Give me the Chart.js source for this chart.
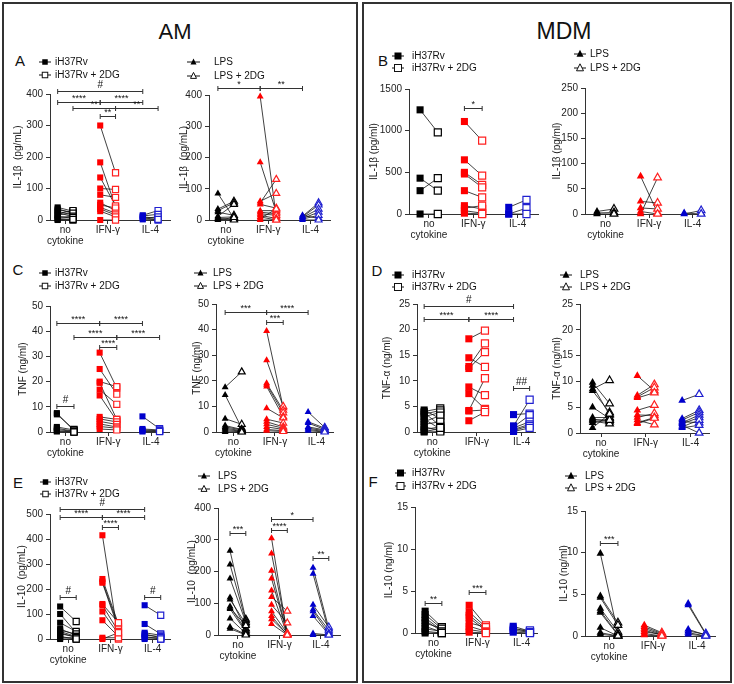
<!DOCTYPE html>
<html><head><meta charset="utf-8">
<script src="https://cdn.jsdelivr.net/npm/chart.js@4"></script>
<style>
body{margin:0;width:734px;height:684px;position:relative;background:#fff;font-family:"Liberation Sans",Arial,sans-serif;overflow:hidden}
.box{position:absolute;border:2px solid #333;box-sizing:border-box}
.t{position:absolute;white-space:nowrap;color:#111;transform:translate(-50%,-50%)}
.lg{position:absolute;white-space:nowrap;color:#111;font-size:10px;line-height:12px}
canvas{position:absolute}
svg{position:absolute;overflow:visible}
</style></head><body>
<div class="box" style="left:2px;top:2px;width:356px;height:681px"></div>
<div class="box" style="left:362px;top:2px;width:370px;height:681px"></div>
<div class="t" style="left:175px;top:32px;font-size:22px">AM</div>
<div class="t" style="left:564px;top:31px;font-size:23px">MDM</div>
<div class="t" style="left:20px;top:60px;font-size:15px">A</div>
<div class="t" style="left:383px;top:60px;font-size:15px">B</div>
<div class="t" style="left:18px;top:269px;font-size:15px">C</div>
<div class="t" style="left:377px;top:270px;font-size:15px">D</div>
<div class="t" style="left:18px;top:482px;font-size:15px">E</div>
<div class="t" style="left:373px;top:481px;font-size:15px">F</div>
<script>
// ---------- categories / series ----------
const categories = [['no','cytokine'], 'IFN-γ', 'IL-4'];
const seriesH37 = ['iH37Rv', 'iH37Rv + 2DG'];
const seriesLPS = ['LPS', 'LPS + 2DG'];

// ---------- A left: IL-1β (pg/mL), AM, iH37Rv ----------
const A1_noF  = [40,36,32,28,24,20,16,12,8,5,2,0];
const A1_noO  = [28,20,25,15,10,30,22,5,12,8,0,2];
const A1_ifnF = [300,183,135,100,80,55,48,40,35,28,0];
const A1_ifnO = [150,42,45,97,72,30,38,22,16,10,0];
const A1_il4F = [15,13,10,8,5,2];
const A1_il4O = [30,18,5,0,10,2];
const A1_sig  = [[0,4,'#',410],[0,2,'****',375],[2,4,'****',375],[1,3,'**',356],[3,5,'**',356],[2,3,'**',330]];
// ---------- A right: IL-1β (pg/mL), AM, LPS ----------
const A2_noF  = [85,35,30,25,12,8,5,3,0];
const A2_noO  = [5,60,55,15,50,10,2,0,8];
const A2_ifnF = [395,185,60,55,50,30,25,20,15,10,5,0];
const A2_ifnO = [10,25,85,130,38,30,20,15,5,0,35,0];
const A2_il4F = [15,12,10,8,5,3,0];
const A2_il4O = [5,55,48,35,25,15,0];
const A2_sig  = [[0,2,'*',422],[2,4,'**',422]];
// ---------- B left: IL-1β (pg/ml), MDM, iH37Rv ----------
const B1_noF  = [1250,430,280,0];
const B1_noO  = [980,280,430,0];
const B1_ifnF = [1110,650,500,480,280,100,70,40,10];
const B1_ifnO = [880,460,350,320,200,60,100,10,0];
const B1_il4F = [80,0,0];
const B1_il4O = [170,70,0];
const B1_sig  = [[2,3,'*',1272]];
// ---------- B right: IL-1β (pg/ml), MDM, LPS ----------
const B2_noF  = [5,2,0];
const B2_noO  = [10,3,0];
const B2_ifnF = [75,0,25,12,5];
const B2_ifnO = [2,72,22,10,0];
const B2_il4F = [0,2];
const B2_il4O = [7,0];
const B2_sig  = [];
// ---------- C left: TNF (ng/ml), AM, iH37Rv ----------
const C1_noF  = [7.5,7,2,1.5,1,0.5,0.2];
const C1_noO  = [0.5,1,0.8,0.3,0.2,0,0];
const C1_ifnF = [31.5,25,20,19.5,16.8,14.5,6,5.2,4.2,3.2,2.2,1.2];
const C1_ifnO = [17.5,15,18,5,11,4.5,5,4,3,2,1.5,0.8];
const C1_il4F = [6.2,1.2,0.8,0.5,0.2];
const C1_il4O = [1.3,0.8,0.5,0.3,0.2];
const C1_sig  = [[0,2,'****',43.3],[2,4,'****',43.3],[1,3,'****',37.7],[3,5,'****',37.7],[2,3,'****',33.7],[0,1,'#',10.3]];
// ---------- C right: TNF (ng/ml), AM, LPS ----------
const C2_noF  = [17.5,14.5,5.2,2.5,2,1.5,1,0.5,0];
const C2_noO  = [23.5,1.5,3,1,0.8,0.5,0.3,0.1,0];
const C2_ifnF = [39.5,28,19,18.5,17.8,9.3,5,4,3,2,1,0.5];
const C2_ifnO = [9.5,10,8.5,7.5,6,5.5,3.5,2,1.5,1,0.5,0.2];
const C2_il4F = [7.8,4,3.5,2,1.5,1,0.5];
const C2_il4O = [1.8,1.5,1,0.8,0.5,0.2,0];
const C2_sig  = [[0,2,'***',46.9],[2,4,'****',46.9],[2,3,'***',43]];
// ---------- D left: TNF-α (ng/ml), MDM, iH37Rv ----------
const D1_noF  = [4.3,4,3.8,3.5,3,2.5,2,1.5,1,0.5,0.2,0];
const D1_noO  = [2.6,4.6,1.2,4.2,3.8,0.6,3.2,2,0.3,1,0.1,0.8];
const D1_ifnF = [18.2,14.5,12.8,12.4,8.8,7.5,4.2,4.1,2.2];
const D1_ifnO = [19.8,12.7,17.3,15.6,7.2,4.5,10.5,4.3,3.9];
const D1_il4F = [3.4,1.2,1,0.8,0.5,0.3,0.1];
const D1_il4O = [3.6,6.3,3.3,2,1.5,1.2,0.8];
const D1_sig  = [[0,4,'#',24.6],[0,2,'****',22],[2,4,'****',22],[4,5,'##',8.6]];
// ---------- D right: TNF-α (ng/ml), MDM, LPS ----------
const D2_noF  = [9.8,9.2,8.5,8.2,5,3,2.7,2.5,2.3,2,1];
const D2_noO  = [5.7,3.5,10.2,4,2.8,3,2.2,2.6,1.8,2.5,3.7];
const D2_ifnF = [11.1,7.3,7,6.8,4.4,3.5,3,2.5,2,1.8];
const D2_ifnO = [8.2,9.4,8.8,7.8,5.4,3.4,3.8,1.6,3,2.9];
const D2_il4F = [6.3,2.8,2.5,2.2,2,1.8,1.5,1.2,1];
const D2_il4O = [7.5,4.4,4,2,3.5,3,0,2.5,1.5];
const D2_sig  = [];
// ---------- E left: IL-10 (pg/mL), AM, iH37Rv ----------
const E1_noF  = [130,100,65,40,35,30,25,20,10,5,0];
const E1_noO  = [70,25,30,15,20,10,5,10,0,5,0];
const E1_ifnF = [415,240,230,225,140,135,110,75,5,0];
const E1_ifnO = [0,60,50,40,65,30,20,10,5,25];
const E1_il4F = [135,60,25,20,15,10,5,0];
const E1_il4O = [95,20,15,5,10,0,5,0];
const E1_sig  = [[0,4,'#',520],[0,2,'****',488],[2,4,'****',488],[2,3,'****',448],[0,1,'#',168],[4,5,'#',168]];
// ---------- E right: IL-10 (pg/mL), AM, LPS ----------
const E2_noF  = [265,222,178,118,112,90,85,82,52,25,20];
const E2_noO  = [50,45,40,20,35,15,30,10,5,2,0];
const E2_ifnF = [305,257,202,178,140,120,95,75,60,50,35];
const E2_ifnO = [0,5,2,3,0,75,38,5,0,2,0];
const E2_il4F = [212,193,95,80,75,60,5,0];
const E2_il4O = [20,10,25,15,5,2,0,0];
const E2_sig  = [[0,1,'***',321],[2,3,'****',331],[2,4,'*',365],[4,5,'**',242]];
// ---------- F left: IL-10 (ng/ml), MDM, iH37Rv ----------
const F1_noF  = [2.6,2.2,1.8,1.5,1.2,0.8,0.5,0.2,0];
const F1_noO  = [0.7,0.5,0.3,0.2,0.5,0.1,0.2,0,0];
const F1_ifnF = [3.3,2.5,2.1,1.8,1.2,0.8,0.4,0.1];
const F1_ifnO = [0.9,0.7,0.5,0.3,0.7,0.2,0.1,0];
const F1_il4F = [0.8,0.6,0.4,0.3,0.1];
const F1_il4O = [0.2,0.1,0.3,0.1,0];
const F1_sig  = [[0,1,'**',3.6],[2,3,'***',4.9]];
// ---------- F right: IL-10 (ng/ml), MDM, LPS ----------
const F2_noF  = [9.9,4.8,4.6,3.3,3,2.8,1,0.4,0.2];
const F2_noO  = [0.3,1.6,1.3,0.5,0.2,0.1,0,0,0];
const F2_ifnF = [1.3,1.1,0.9,0.7,0.5,0.3,0.1];
const F2_ifnO = [0.4,0.3,0.2,0.1,0.2,0,0];
const F2_il4F = [3.9,3.7,0.8,0.6,0.4,0.2];
const F2_il4O = [0.3,0.2,0.1,0.2,0,0];
const F2_sig  = [[0,1,'***',11.2]];

// ---------- styles / layout ----------
const FONT = '"Liberation Sans", Arial, sans-serif';
Chart.defaults.font.family = FONT;
const FILL = ['#000000', '#ff0000', '#0000cc'];
const OPEN = ['#000000', '#ff2020', '#2020d0'];

const plots = [
 {L:50, R:170, top:94, bottom:220, xmin:-0.36, xmax:2.46, d:0.18, ymax:400, step:100, titleX:18, title:'IL-1β  (pg/mL)', marker:'rect', r:4.3,
  data:[A1_noF,A1_noO,A1_ifnF,A1_ifnO,A1_il4F,A1_il4O], sig:A1_sig},
 {L:209, R:330, top:95, bottom:220, xmin:-0.40, xmax:2.46, d:0.19, ymax:400, step:100, titleX:184, title:'IL-1β  (pg/mL)', marker:'triangle', r:4.0,
  data:[A2_noF,A2_noO,A2_ifnF,A2_ifnO,A2_il4F,A2_il4O], sig:A2_sig},
 {L:409, R:538, top:89, bottom:214, xmin:-0.45, xmax:2.46, d:0.2, ymax:1500, step:500, titleX:374, title:'IL-1β (pg/ml)', marker:'rect', r:5.0,
  data:[B1_noF,B1_noO,B1_ifnF,B1_ifnO,B1_il4F,B1_il4O], sig:B1_sig},
 {L:585, R:704, top:88, bottom:214, xmin:-0.47, xmax:2.26, d:0.195, ymax:250, step:50, titleX:557, title:'IL-1β (pg/ml)', marker:'triangle', r:4.4,
  data:[B2_noF,B2_noO,B2_ifnF,B2_ifnO,B2_il4F,B2_il4O], sig:B2_sig},
 {L:50, R:169, top:306, bottom:432, xmin:-0.36, xmax:2.42, d:0.2, ymax:50, step:10, titleX:23, title:'TNF (ng/ml)', marker:'rect', r:4.3,
  data:[C1_noF,C1_noO,C1_ifnF,C1_ifnO,C1_il4F,C1_il4O], sig:C1_sig},
 {L:216, R:333, top:304, bottom:432, xmin:-0.42, xmax:2.4, d:0.2, ymax:50, step:10, titleX:197, title:'TNF (ng/ml)', marker:'triangle', r:4.0,
  data:[C2_noF,C2_noO,C2_ifnF,C2_ifnO,C2_il4F,C2_il4O], sig:C2_sig},
 {L:417, R:535, top:304, bottom:432, xmin:-0.34, xmax:2.3, d:0.18, ymax:25, step:5, titleX:387, title:'TNF-α (ng/ml)', marker:'rect', r:5.0,
  data:[D1_noF,D1_noO,D1_ifnF,D1_ifnO,D1_il4F,D1_il4O], sig:D1_sig},
 {L:580, R:709, top:304, bottom:433, xmin:-0.47, xmax:2.41, d:0.19, ymax:25, step:5, titleX:557, title:'TNF-α (ng/ml)', marker:'triangle', r:4.4,
  data:[D2_noF,D2_noO,D2_ifnF,D2_ifnO,D2_il4F,D2_il4O], sig:D2_sig},
 {L:50, R:170, top:514, bottom:639, xmin:-0.43, xmax:2.41, d:0.19, ymax:500, step:100, titleX:22, title:'IL-10  (pg/mL)', marker:'rect', r:4.3,
  data:[E1_noF,E1_noO,E1_ifnF,E1_ifnO,E1_il4F,E1_il4O], sig:E1_sig},
 {L:218, R:340, top:508, bottom:635, xmin:-0.48, xmax:2.46, d:0.19, ymax:400, step:100, titleX:192, title:'IL-10  (pg/mL)', marker:'triangle', r:4.0,
  data:[E2_noF,E2_noO,E2_ifnF,E2_ifnO,E2_il4F,E2_il4O], sig:E2_sig},
 {L:415, R:537, top:507, bottom:633, xmin:-0.42, xmax:2.35, d:0.19, ymax:15, step:5, titleX:389, title:'IL-10 (ng/ml)', marker:'rect', r:5.0,
  data:[F1_noF,F1_noO,F1_ifnF,F1_ifnO,F1_il4F,F1_il4O], sig:F1_sig},
 {L:585, R:715, top:511, bottom:636, xmin:-0.55, xmax:2.41, d:0.2, ymax:15, step:5, titleX:564, title:'IL-10 (ng/ml)', marker:'triangle', r:4.4,
  data:[F2_noF,F2_noO,F2_ifnF,F2_ifnO,F2_il4F,F2_il4O], sig:F2_sig}
];

const legends = [
 {x1:39, x2:51, tx:55, ys:[62,75], labels:seriesH37, marker:'rect', s:5.5},
 {x1:187, x2:200, tx:214, ys:[62,76], labels:seriesLPS, marker:'tri', s:6},
 {x1:392, x2:404, tx:412, ys:[56,68], labels:seriesH37, marker:'rect', s:7},
 {x1:574, x2:586, tx:590, ys:[54,68], labels:seriesLPS, marker:'tri', s:7},
 {x1:39, x2:51, tx:55, ys:[273,286], labels:seriesH37, marker:'rect', s:5.5},
 {x1:194, x2:207, tx:213, ys:[273,286], labels:seriesLPS, marker:'tri', s:6},
 {x1:392, x2:404, tx:412, ys:[275,287], labels:seriesH37, marker:'rect', s:7},
 {x1:560, x2:572, tx:580, ys:[275,287], labels:seriesLPS, marker:'tri', s:7},
 {x1:40, x2:51, tx:55, ys:[482,494], labels:seriesH37, marker:'rect', s:5.5},
 {x1:198, x2:210, tx:218, ys:[476,489], labels:seriesLPS, marker:'tri', s:6},
 {x1:395, x2:406, tx:412, ys:[473,486], labels:seriesH37, marker:'rect', s:7},
 {x1:565, x2:577, tx:585, ys:[476,488], labels:seriesLPS, marker:'tri', s:7}
];

const NS = 'http://www.w3.org/2000/svg';
function drawLegend(g){
  g.ys.forEach((y, i) => {
    const w = g.x2 - g.x1, h = 10;
    const svg = document.createElementNS(NS, 'svg');
    svg.setAttribute('width', w); svg.setAttribute('height', h);
    svg.style.left = g.x1 + 'px'; svg.style.top = (y - h / 2) + 'px';
    const ln = document.createElementNS(NS, 'line');
    ln.setAttribute('x1', 0); ln.setAttribute('x2', w); ln.setAttribute('y1', h / 2); ln.setAttribute('y2', h / 2);
    ln.setAttribute('stroke', '#111'); ln.setAttribute('stroke-width', 1);
    svg.appendChild(ln);
    const cx = w / 2, cy = h / 2, s = g.s;
    let m;
    if (g.marker === 'rect') {
      m = document.createElementNS(NS, 'rect');
      m.setAttribute('x', cx - s / 2); m.setAttribute('y', cy - s / 2);
      m.setAttribute('width', s); m.setAttribute('height', s);
    } else {
      m = document.createElementNS(NS, 'polygon');
      m.setAttribute('points', `${cx},${cy - s * 0.6} ${cx - s / 2},${cy + s * 0.4} ${cx + s / 2},${cy + s * 0.4}`);
    }
    if (i === 0) { m.setAttribute('fill', '#000'); }
    else { m.setAttribute('fill', '#fff'); m.setAttribute('stroke', '#111'); m.setAttribute('stroke-width', 1); }
    svg.appendChild(m);
    document.body.appendChild(svg);
    const t = document.createElement('div');
    t.className = 'lg'; t.textContent = g.labels[i];
    t.style.left = g.tx + 'px'; t.style.top = (y - 6) + 'px';
    document.body.appendChild(t);
  });
}

function drawBrackets(chart, items, d){
  const ctx = chart.ctx, xs = chart.scales.x, ys = chart.scales.y;
  const px = c => xs.getPixelForValue(Math.floor(c / 2) + (c % 2 ? d : -d));
  ctx.save();
  ctx.strokeStyle = '#333'; ctx.lineWidth = 1; ctx.fillStyle = '#111';
  ctx.textAlign = 'center'; ctx.textBaseline = 'bottom';
  items.forEach(([c1, c2, label, v]) => {
    const x1 = px(c1), x2 = px(c2), y = Math.round(ys.getPixelForValue(v)) + 0.5;
    ctx.beginPath();
    ctx.moveTo(x1, y); ctx.lineTo(x2, y);
    ctx.moveTo(x1, y - 2.5); ctx.lineTo(x1, y + 2.5);
    ctx.moveTo(x2, y - 2.5); ctx.lineTo(x2, y + 2.5);
    ctx.stroke();
    ctx.font = (label.indexOf('#') >= 0 ? '10px ' : '9px ') + FONT;
    ctx.fillText(label, (x1 + x2) / 2, label.indexOf('#') >= 0 ? y - 1 : y + 1);
  });
  ctx.restore();
}

function buildPlot(p){
  const padTop = 45, padRight = 8, H = 30;
  const left = p.titleX - 6;
  const W = p.L - left;
  const width = p.R + padRight - left;
  const height = (p.bottom - p.top) + padTop + H;
  const cv = document.createElement('canvas');
  cv.width = width; cv.height = height;
  cv.style.left = left + 'px'; cv.style.top = (p.top - padTop) + 'px';
  cv.style.width = width + 'px'; cv.style.height = height + 'px';
  document.body.appendChild(cv);
  const datasets = [0, 1, 2].map(c => {
    const f = p.data[2 * c], o = p.data[2 * c + 1];
    const pts = [];
    f.forEach((v, i) => { pts.push({x: c - p.d, y: v}, {x: c + p.d, y: o[i]}, {x: c, y: null}); });
    return {
      data: pts, showLine: true, spanGaps: false, borderColor: '#111', borderWidth: 0.8, clip: false,
      pointStyle: p.marker,
      pointRadius: ctx => ctx.dataIndex % 3 === 2 ? 0 : p.r,
      pointHoverRadius: ctx => ctx.dataIndex % 3 === 2 ? 0 : p.r,
      pointBackgroundColor: ctx => ctx.dataIndex % 3 === 0 ? FILL[c] : '#ffffff',
      pointBorderColor: ctx => ctx.dataIndex % 3 === 0 ? FILL[c] : OPEN[c],
      pointBorderWidth: ctx => ctx.dataIndex % 3 === 0 ? 0 : 1.2
    };
  });
  new Chart(cv, {
    type: 'scatter',
    data: {datasets},
    options: {
      responsive: false, animation: false, events: [],
      layout: {padding: {top: padTop, right: padRight, left: 0, bottom: 0}},
      plugins: {legend: {display: false}, tooltip: {enabled: false}},
      scales: {
        x: {
          type: 'linear', min: p.xmin, max: p.xmax,
          afterBuildTicks: s => { s.ticks = [{value: 0}, {value: 1}, {value: 2}]; },
          afterFit: s => { s.height = H; },
          ticks: {callback: v => categories[v], autoSkip: false, maxRotation: 0, minRotation: 0, padding: 1,
                  color: '#222', font: {size: 10, lineHeight: 1.1}},
          grid: {drawOnChartArea: false, drawTicks: true, tickLength: 4, color: '#333', lineWidth: 1},
          border: {display: true, color: '#333', width: 1}
        },
        y: {
          min: 0, max: p.ymax,
          afterFit: s => { s.width = W; },
          ticks: {stepSize: p.step, padding: 3, color: '#222', font: {size: 10}, callback: v => String(v)},
          grid: {drawOnChartArea: false, drawTicks: true, tickLength: 4, color: '#333', lineWidth: 1},
          border: {display: true, color: '#333', width: 1},
          title: {display: true, text: p.title, color: '#222', font: {size: 10}, padding: 0}
        }
      }
    },
    plugins: [{id: 'brackets', afterDraw: chart => drawBrackets(chart, p.sig, p.d)}]
  });
}

plots.forEach(buildPlot);
legends.forEach(drawLegend);
</script>
</body></html>
